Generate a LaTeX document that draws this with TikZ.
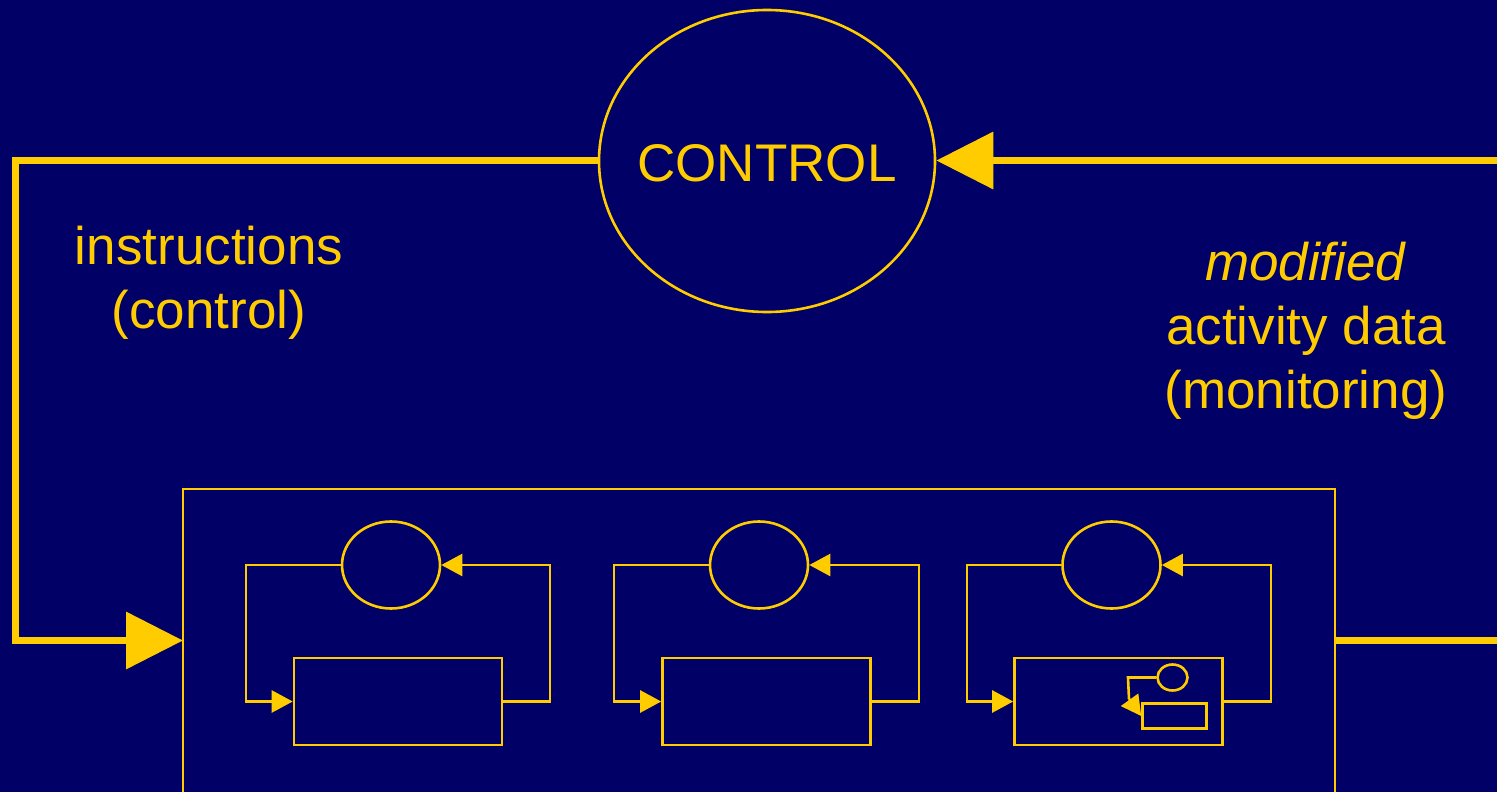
\documentclass[tikz,border=0pt]{standalone}
\usepackage{fontspec}
\setmainfont{Liberation Sans}
\usetikzlibrary{arrows.meta,shapes.geometric}
\definecolor{bg}{HTML}{000066}
\definecolor{gold}{HTML}{FFCC00}
\begin{document}
\begin{tikzpicture}[x=1pt,y=-1pt,
  thick line/.style={draw=gold, line width=7pt},
  thin line/.style={draw=gold, line width=2.6pt},
  bigtip/.style={-{Triangle[length=57pt,width=56pt]}},
  smalltip/.style={-{Triangle[length=21pt,width=22pt]}},
  oval/.style={ellipse, draw=gold, line width=2.6pt, inner sep=0pt},
  box/.style={rectangle, draw=gold, line width=2.6pt, inner sep=0pt},
  lbl/.style={text=gold, align=center, font=\fontsize{53}{64}\selectfont, inner sep=0pt}]
\fill[bg] (0,0) rectangle (1497,792);
\useasboundingbox (0,0) rectangle (1497,792);
% main control ellipse
\node[oval, minimum width=336pt, minimum height=302pt] (ctrl) at (767,161) {};
\node[lbl] (ctrltxt) at (767,163) {CONTROL};
% big box (bottom cut off)
\coordinate (bbtl) at (183,489);
\coordinate (bbtr) at (1335,489);
\draw[thin line] (183,800) -- (bbtl) -- (bbtr) -- (1335,800);
\coordinate (inpt) at (183,640.5);
\coordinate (outpt) at (1335,640.5);
\coordinate (rightin) at (1497,160.5);
\coordinate (rightout) at (1497,640.5);
\coordinate (lc1) at (15,160.5);
\coordinate (lc2) at (15,640.5);
% thick connectors
\draw[thick line, bigtip] (ctrl.west |- lc1) -- (lc1) -- (lc2) -- (inpt);
\draw[thick line] (outpt) -- (rightout);
\draw[thick line, bigtip] (rightin) -- (ctrl.east |- rightin);
% labels
\node[lbl] (instr) at (209,283) {instructions\\(control)};
\node[lbl] (mon) at (1306,331) {\textit{modified}\\activity data\\(monitoring)};
% small loops
\foreach \i/\ex/\bx/\lx/\rx in {1/391/398/246/550, 2/759/766.5/614/919, 3/1111.5/1118.5/967/1271}{
  \node[oval, minimum width=98pt, minimum height=87pt] (e\i) at (\ex,565) {};
  \node[box, minimum width=208pt, minimum height=87pt] (b\i) at (\bx,701.5) {};
  \coordinate (l\i a) at (\lx,565);
  \coordinate (l\i b) at (\lx,701.5);
  \coordinate (r\i a) at (\rx,701.5);
  \coordinate (r\i b) at (\rx,565);
  \draw[thin line, smalltip] (e\i.west) -- (l\i a) -- (l\i b) -- (b\i.west);
  \draw[thin line, smalltip] (b\i.east) -- (r\i a) -- (r\i b) -- (e\i.east);
}
% nested tiny loop in third box
\node[oval, minimum width=30pt, minimum height=26pt] (se) at (1172.5,677.5) {};
\node[box, minimum width=64pt, minimum height=25pt] (sb) at (1174.5,716) {};
\coordinate (sc1) at (1128,677.5);
\coordinate (sc2) at (1129,699);
\draw[thin line] (se.west) -- (sc1) -- (sc2);
\draw[thin line, -{Triangle[length=20pt,width=21pt]}] (sc2) -- (sb.west);
\end{tikzpicture}
\end{document}
